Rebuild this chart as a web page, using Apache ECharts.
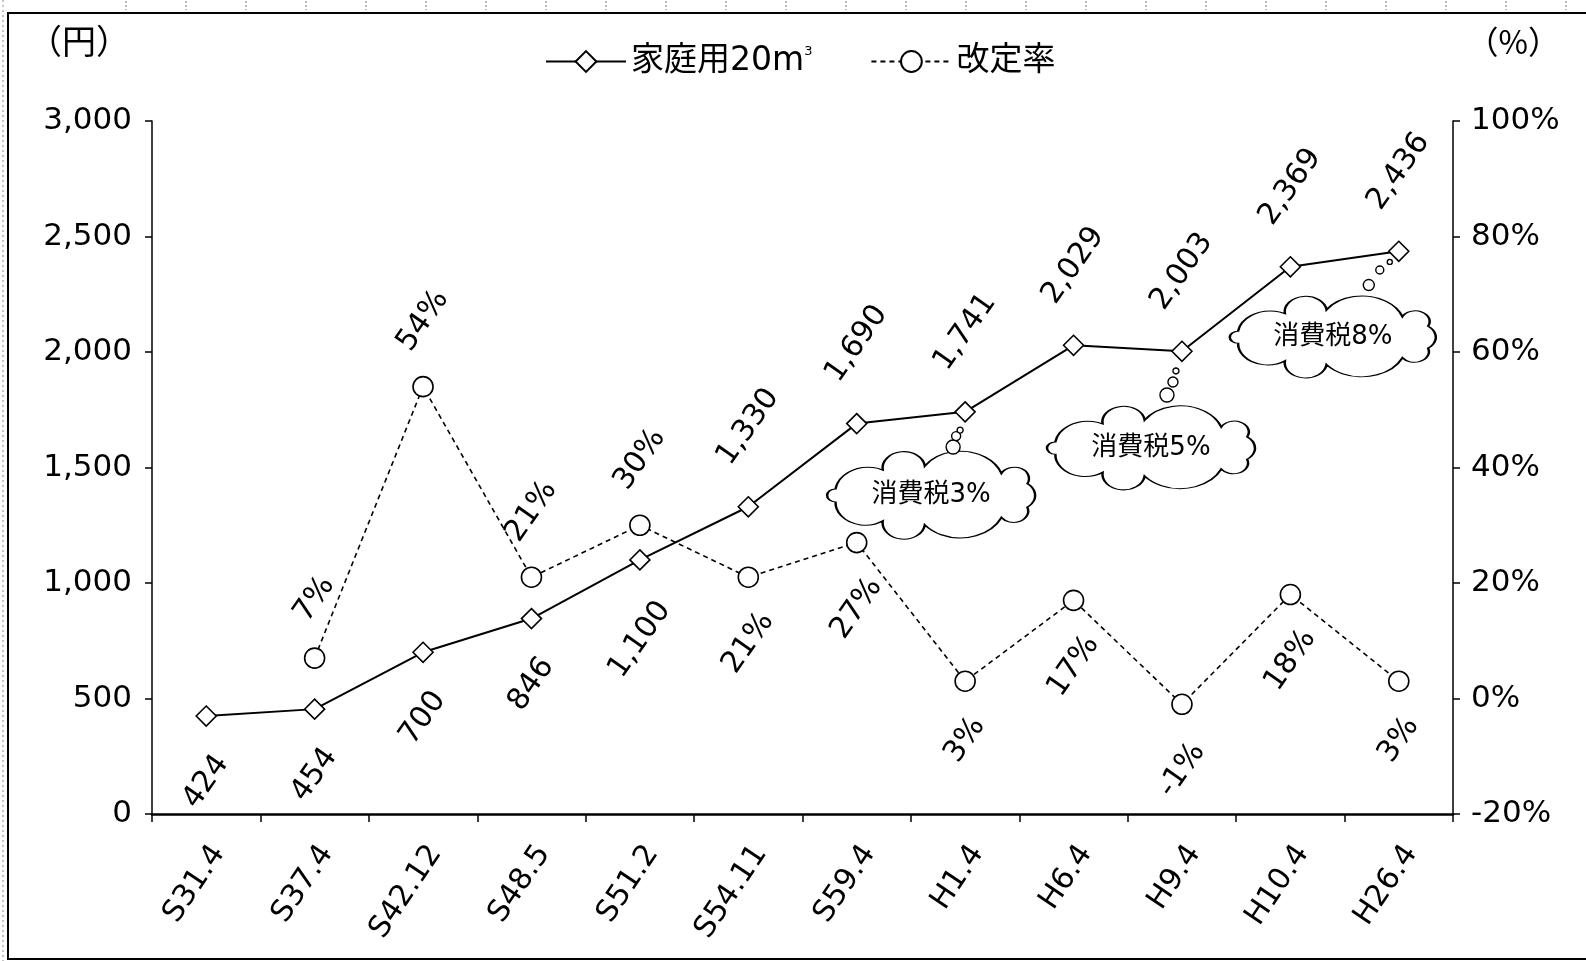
<!DOCTYPE html>
<html>
<head>
<meta charset="utf-8">
<script src="https://cdn.jsdelivr.net/npm/echarts@6/dist/echarts.min.js"></script>
<style>
  html, body { margin: 0; padding: 0; background: #fff; }
  #chart { width: 1586px; height: 961px; }
</style>
</head>
<body>
<div id="chart"></div>
<script>
// 料金改定の時期
const categories = ['S31.4', 'S37.4', 'S42.12', 'S48.5', 'S51.2', 'S54.11', 'S59.4', 'H1.4', 'H6.4', 'H9.4', 'H10.4', 'H26.4'];
// 家庭用 20m3 あたりの料金（円）
const householdCharge = [424, 454, 700, 846, 1100, 1330, 1690, 1741, 2029, 2003, 2369, 2436];
// 改定率（%）— 初回は改定率なし
const revisionRate = ['-', 7, 54, 21, 30, 21, 27, 3, 17, -1, 18, 3];
// 料金ラベルを点の下に置く時期（それ以外は上）
const chargeLabelBelow = ['S31.4', 'S37.4', 'S42.12', 'S48.5', 'S51.2'];
// 改定率ラベルを点の上に置く時期（それ以外は下）
const rateLabelAbove = ['S37.4', 'S42.12', 'S48.5', 'S51.2'];
// 消費税の吹き出し
const taxNotes = [
  { text: '消費税3%', at: 'H1.4' },
  { text: '消費税5%', at: 'H9.4' },
  { text: '消費税8%', at: 'H26.4' }
];
const leftTicks = { min: 0, max: 3000, step: 500 };
const rightTicks = { min: -20, max: 100, step: 20 };

const FONT = '"DejaVu Sans", "Noto Sans CJK JP", sans-serif';
const SYM = 20;

// 雲形の輪郭（円弧のこぶを楕円に沿って並べる）
function cloudPath(w, h, n) {
  const cx = w / 2, cy = h / 2, rx = w * 0.43, ry = h * 0.36;
  const jitter = [1.0, 0.85, 1.1, 0.9, 1.05, 0.8, 1.0, 0.9, 1.1, 0.85, 1.0, 0.95];
  const pts = [];
  for (let i = 0; i < n; i++) {
    const a = -Math.PI / 2 + (i + 0.3 * ((i % 2) - 0.5)) * 2 * Math.PI / n;
    pts.push([cx + rx * Math.cos(a), cy + ry * Math.sin(a)]);
  }
  let d = 'M' + pts[0][0].toFixed(1) + ' ' + pts[0][1].toFixed(1);
  for (let i = 0; i < n; i++) {
    const p = pts[i], q = pts[(i + 1) % n];
    const chord = Math.hypot(q[0] - p[0], q[1] - p[1]);
    const r = chord * 0.56 * jitter[i % jitter.length];
    d += ' A' + r.toFixed(1) + ' ' + r.toFixed(1) + ' 0 0 1 ' + q[0].toFixed(1) + ' ' + q[1].toFixed(1);
  }
  return 'path://' + d + ' Z';
}
const CLOUD = cloudPath(200, 90, 10);

// 回転ラベルの中心までの距離（文字数に応じて）
function labelGap(text) {
  return 44 + 7 * String(text).length - SYM / 2;
}
function fmtYen(v) {
  return Number(v).toLocaleString('en-US');
}

const chargeData = householdCharge.map((v, i) => {
  const below = chargeLabelBelow.includes(categories[i]);
  return {
    value: v,
    label: { position: below ? 'bottom' : 'top', distance: labelGap(fmtYen(v)) }
  };
});
const rateData = revisionRate.map((v, i) => {
  if (v === '-') return '-';
  const above = rateLabelAbove.includes(categories[i]);
  return {
    value: v,
    label: { position: above ? 'top' : 'bottom', distance: labelGap(v + '%') }
  };
});

// 吹き出しの配置（左軸の値とカテゴリ基準のずれ）
const cloudPlacement = [
  { value: 1380, dx: -34, size: [208, 88], bubbles: [[1589, -12, 14], [1636, -9, 9], [1662, -5, 6]] },
  { value: 1585, dx: -31, size: [208, 84], bubbles: [[1814, -15, 14], [1870, -9, 10], [1918, -6, 6]] },
  { value: 2065, dx: -66, size: [206, 82], bubbles: [[2290, -30, 11], [2355, -19, 8], [2390, -9, 5]] }
];
const markData = [];
taxNotes.forEach((note, k) => {
  const pl = cloudPlacement[k];
  markData.push({
    name: note.text,
    coord: [note.at, pl.value],
    symbol: CLOUD,
    symbolSize: pl.size,
    symbolOffset: [pl.dx, 0],
    itemStyle: { color: '#fff', borderColor: '#000', borderWidth: 1.6 },
    label: {
      show: true, position: 'inside', formatter: '{b}',
      color: '#000', fontSize: 26, fontFamily: FONT
    }
  });
  pl.bubbles.forEach(b => {
    markData.push({
      name: '',
      coord: [note.at, b[0]],
      symbol: 'circle',
      symbolSize: b[2],
      symbolOffset: [b[1], 0],
      itemStyle: { color: '#fff', borderColor: '#000', borderWidth: 1.4 },
      label: { show: false }
    });
  });
});

// 枠の上にある目盛り状の点線
const rulerMarks = [];
for (let x = 126; x < 1586; x += 60) {
  rulerMarks.push({
    type: 'line', silent: true,
    shape: { x1: x, y1: 1, x2: x, y2: 10 },
    style: { stroke: '#777', lineWidth: 1, lineDash: [2, 2] }
  });
}

const chart = echarts.init(document.getElementById('chart'), null, { renderer: 'canvas' });
chart.setOption({
  backgroundColor: '#fff',
  animation: false,
  textStyle: { fontFamily: FONT, color: '#000' },
  grid: { left: 152, right: 133, top: 121, bottom: 147, outerBoundsMode: 'none' },
  legend: {
    top: 40,
    left: 540,
    itemWidth: 80,
    itemHeight: 26,
    itemGap: 58,
    data: ['家庭用20㎥', '改定率'],
    formatter: name => name === '家庭用20㎥' ? '家庭用20m{sup|3}' : name,
    textStyle: {
      fontSize: 33, color: '#000', fontFamily: FONT,
      rich: { sup: { fontSize: 13, verticalAlign: 'top', padding: [0, 0, 20, 0], fontFamily: FONT } }
    }
  },
  graphic: [
    { type: 'rect', shape: { x: 8, y: 13, width: 1600, height: 946 }, style: { fill: null, stroke: '#000', lineWidth: 2 }, silent: true },
    { type: 'line', silent: true, shape: { x1: 3, y1: 0, x2: 3, y2: 961 }, style: { stroke: '#888', lineWidth: 1, lineDash: [2, 3] } },
    { type: 'text', left: 28, top: 24, style: { text: '（円）', font: '34px "Noto Sans CJK JP"', fill: '#000' } },
    { type: 'text', right: 26, top: 26, style: { text: '（%）', font: '32px "Noto Sans CJK JP"', fill: '#000' } }
  ].concat(rulerMarks),
  xAxis: {
    type: 'category',
    data: categories,
    boundaryGap: true,
    axisLine: { lineStyle: { color: '#000', width: 2.5 } },
    axisTick: { show: true, length: 8, alignWithLabel: false, lineStyle: { color: '#000', width: 1.5 } },
    axisLabel: {
      rotate: 56, margin: 26, fontSize: 30, color: '#000', fontFamily: FONT,
      align: 'right', verticalAlign: 'top', interval: 0
    },
    splitLine: { show: false }
  },
  yAxis: [
    {
      type: 'value',
      min: leftTicks.min, max: leftTicks.max, interval: leftTicks.step,
      axisLine: { show: true, lineStyle: { color: '#000', width: 1.5 } },
      axisTick: { show: true, length: 7, lineStyle: { color: '#000', width: 1.5 } },
      axisLabel: { fontSize: 31, margin: 20, color: '#000', fontFamily: FONT, formatter: v => fmtYen(v) },
      splitLine: { show: false }
    },
    {
      type: 'value',
      min: rightTicks.min, max: rightTicks.max, interval: rightTicks.step,
      axisLine: { show: true, lineStyle: { color: '#000', width: 1.5 } },
      axisTick: { show: true, length: 7, lineStyle: { color: '#000', width: 1.5 } },
      axisLabel: { fontSize: 31, margin: 18, color: '#000', fontFamily: FONT, formatter: '{value}%' },
      splitLine: { show: false }
    }
  ],
  series: [
    {
      name: '家庭用20㎥',
      type: 'line',
      yAxisIndex: 0,
      data: chargeData,
      symbol: 'diamond',
      symbolSize: SYM,
      itemStyle: { color: '#fff', borderColor: '#000', borderWidth: 1.6 },
      lineStyle: { color: '#000', width: 2 },
      label: {
        show: true, rotate: 55, align: 'center', verticalAlign: 'middle',
        fontSize: 30, color: '#000', fontFamily: FONT,
        formatter: p => fmtYen(p.value)
      },
      markPoint: { silent: true, data: markData },
      z: 3
    },
    {
      name: '改定率',
      type: 'line',
      yAxisIndex: 1,
      data: rateData,
      symbol: 'circle',
      symbolSize: SYM,
      itemStyle: { color: '#fff', borderColor: '#000', borderWidth: 1.6 },
      lineStyle: { color: '#000', width: 1.6, type: [5, 4] },
      label: {
        show: true, rotate: 55, align: 'center', verticalAlign: 'middle',
        fontSize: 30, color: '#000', fontFamily: FONT,
        formatter: p => p.value + '%'
      },
      z: 2
    }
  ]
});
</script>
</body>
</html>
